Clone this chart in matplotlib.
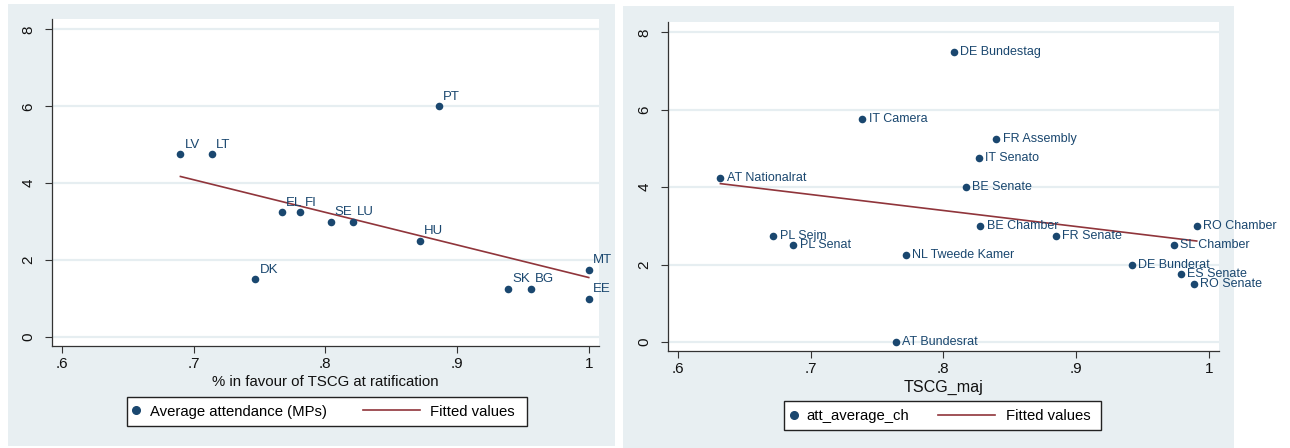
"""Two Stata-style scatter plots: attendance vs. TSCG support, with fitted lines."""

import matplotlib

matplotlib.use("Agg")
import matplotlib.pyplot as plt  # noqa: E402
import numpy as np  # noqa: E402
from matplotlib.lines import Line2D  # noqa: E402
from matplotlib.patches import Rectangle  # noqa: E402

plt.rcParams["font.family"] = ["Liberation Sans", "DejaVu Sans"]

# left panel: member states
left_labels = ["LV", "LT", "EL", "FI", "SE", "LU", "HU", "PT", "DK", "MT", "EE", "SK", "BG"]
left_x = [0.690, 0.714, 0.767, 0.781, 0.804, 0.821, 0.872, 0.886, 0.747, 1.0, 1.0, 0.939, 0.956]
left_y = [4.75, 4.75, 3.25, 3.25, 3.0, 3.0, 2.5, 6.0, 1.5, 1.75, 1.0, 1.25, 1.25]

# right panel: chambers
right_labels = [
    "AT Nationalrat", "IT Camera", "PL Sejm", "PL Senat", "NL Tweede Kamer",
    "AT Bundesrat", "DE Bundestag", "FR Assembly", "IT Senato", "BE Senate",
    "BE Chamber", "FR Senate", "RO Chamber", "SL Chamber", "DE Bunderat",
    "ES Senate", "RO Senate",
]
right_x = [0.632, 0.739, 0.672, 0.687, 0.772, 0.764, 0.808, 0.840, 0.827, 0.817,
           0.828, 0.885, 0.991, 0.974, 0.942, 0.979, 0.989]
right_y = [4.25, 5.75, 2.75, 2.5, 2.25, 0.0, 7.5, 5.25, 4.75, 4.0,
           3.0, 2.75, 3.0, 2.5, 2.0, 1.75, 1.5]

x_ticks = [0.6, 0.7, 0.8, 0.9, 1.0]
x_tick_labels = [".6", ".7", ".8", ".9", "1"]
y_ticks = [0, 2, 4, 6, 8]

NAVY = "#1a476f"
MAROON = "#90353b"
BG = "#e8eff2"
GRID = "#e6eef1"
LEG_FS = 10.7

W, H = 1290, 448
fig = plt.figure(figsize=(W / 100, H / 100), dpi=100)
fig.patch.set_facecolor("white")
fig.add_artist(Rectangle((8 / W, 2 / H), 607 / W, 442 / H, transform=fig.transFigure,
                         facecolor=BG, edgecolor="none", zorder=0))
fig.add_artist(Rectangle((623 / W, 0), 611 / W, 442 / H, transform=fig.transFigure,
                         facecolor=BG, edgecolor="none", zorder=0))

ax1 = fig.add_axes([52 / W, 1 - 346 / H, 547 / W, 327 / H])
ax2 = fig.add_axes([668 / W, 1 - 351 / H, 551 / W, 329 / H])


def style_axes(ax, xlabel, label_fs):
    ax.set_facecolor("white")
    ax.set_xlim(0.5925, 1.0078)
    ax.set_ylim(-0.235, 8.27)
    ax.set_xticks(x_ticks)
    ax.set_xticklabels(x_tick_labels)
    ax.set_yticks(y_ticks)
    ax.set_yticklabels([str(v) for v in y_ticks], rotation=90, va="center")
    ax.tick_params(axis="both", direction="out", length=5, width=0.8,
                   color="#333333", labelsize=11, labelcolor="#111111")
    ax.tick_params(axis="y", pad=7)
    ax.tick_params(axis="x", pad=3)
    for side in ["top", "right"]:
        ax.spines[side].set_visible(False)
    for side in ["left", "bottom"]:
        ax.spines[side].set_color("#333333")
        ax.spines[side].set_linewidth(0.9)
    for v in y_ticks:
        ax.axhline(v, color=GRID, linewidth=1.6, zorder=0)
    ax.set_xlabel(xlabel, fontsize=label_fs, labelpad=3, color="#111111")


def fitted(xs, ys):
    xs = np.asarray(xs)
    slope, intercept = np.polyfit(xs, ys, 1)
    fx = np.array([xs.min(), xs.max()])
    return fx, slope * fx + intercept


# left panel
style_axes(ax1, "% in favour of TSCG at ratification", 10.8)
ax1.scatter(left_x, left_y, s=30, color=NAVY, zorder=3, linewidths=0)
fx, fy = fitted(left_x, left_y)
ax1.plot(fx, fy, color=MAROON, linewidth=1.2, zorder=2)
for lab, x, y in zip(left_labels, left_x, left_y):
    ax1.annotate(lab, (x, y), xytext=(3, 2.5), textcoords="offset points",
                 ha="left", va="bottom", fontsize=9.5, color=NAVY)

# right panel
style_axes(ax2, "TSCG_maj", 11.6)
ax2.scatter(right_x, right_y, s=30, color=NAVY, zorder=3, linewidths=0)
fx, fy = fitted(right_x, right_y)
ax2.plot(fx, fy, color=MAROON, linewidth=1.2, zorder=2)
for lab, x, y in zip(right_labels, right_x, right_y):
    ax2.annotate(lab, (x, y), xytext=(4.5, 0), textcoords="offset points",
                 ha="left", va="center", fontsize=9, color=NAVY)


# legends: one framed box holding a marker entry and a line entry
def add_entry(handle, text, x_px, y_px, hlen, hpad):
    leg = fig.legend([handle], [text], loc="center left",
                     bbox_to_anchor=(x_px / W, 1 - y_px / H), fontsize=LEG_FS,
                     frameon=False, handlelength=hlen, handletextpad=hpad,
                     borderpad=0, borderaxespad=0)
    leg.set_zorder(5)


for box, name, dot_x, line_x, y_mid, dot_pad, line_pad in [
    ((127, 397, 527, 426), "Average attendance (MPs)", 130, 363, 411.5, 0.54, 0.67),
    ((784, 401, 1101, 430), "att_average_ch", 788, 938, 416.0, 0.47, 0.74),
]:
    x0, y0, x1, y1 = box
    fig.add_artist(Rectangle((x0 / W, 1 - y1 / H), (x1 - x0) / W, (y1 - y0) / H,
                             transform=fig.transFigure, facecolor="white",
                             edgecolor="#222222", linewidth=1.0, zorder=4))
    dot = Line2D([], [], marker="o", linestyle="none", markersize=5.5, color=NAVY)
    line = Line2D([], [], color=MAROON, linewidth=1.2)
    add_entry(dot, name, dot_x, y_mid, 0.8, dot_pad)
    add_entry(line, "Fitted values", line_x, y_mid, 3.84, line_pad)

fig.savefig("out.png", dpi=100)
